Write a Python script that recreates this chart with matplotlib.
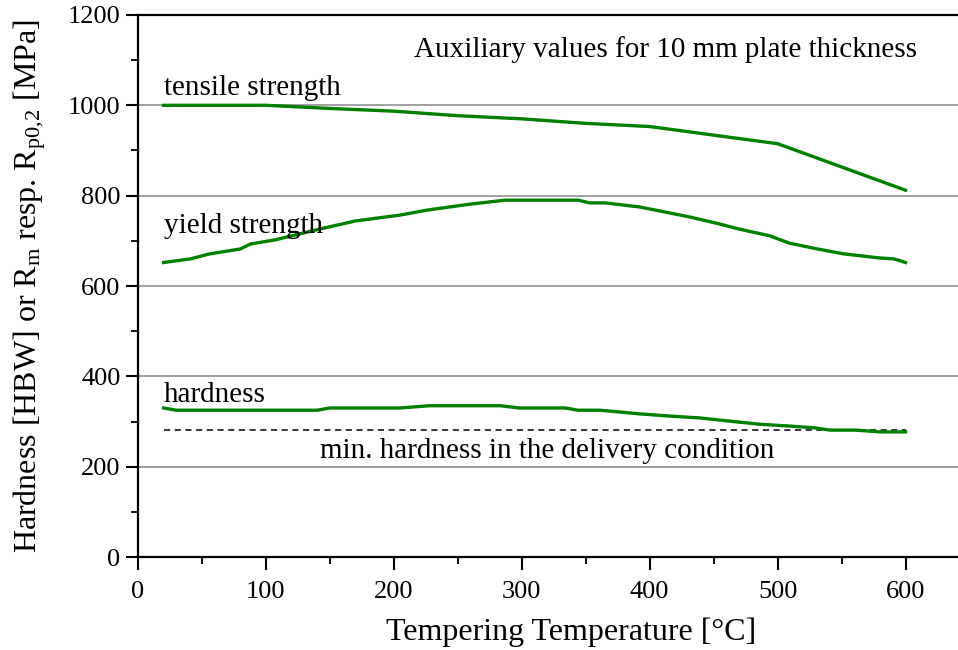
import numpy as np
import matplotlib
matplotlib.use("Agg")
import matplotlib.pyplot as plt
from matplotlib.ticker import MultipleLocator

plt.rcParams['font.family'] = ['Liberation Serif', 'DejaVu Serif']
plt.rcParams['mathtext.fontset'] = 'custom'
plt.rcParams['mathtext.rm'] = 'Liberation Serif'
plt.rcParams['mathtext.it'] = 'Liberation Serif:italic'

# 数据
tensile_x = [20, 100, 150, 200, 250, 300, 350, 400, 450, 500, 600]
tensile_y = [1000, 1000, 993, 987, 977, 970, 960, 953, 934, 915, 812]

yield_x = [20, 41, 56, 80, 88, 107, 142, 170, 205, 226, 259, 287, 344, 353, 365,
           392, 431, 455, 470, 494, 509, 531, 552, 580, 591, 600]
yield_y = [652, 660, 671, 682, 693, 702, 726, 744, 757, 768, 781, 790, 790, 784, 784,
           775, 753, 737, 726, 711, 695, 682, 671, 662, 660, 652]

hard_x = [20, 30, 140, 150, 205, 228, 283, 298, 334, 344, 361, 377, 392, 416, 439,
          462, 486, 509, 529, 541, 561, 580, 600]
hard_y = [330, 325, 325, 330, 330, 335, 335, 330, 330, 325, 325, 321, 317, 312, 308,
          301, 294, 290, 286, 281, 281, 277, 277]

min_hard_x = [20, 600]
min_hard_y = [281, 281]

green = '#008000'

fig = plt.figure(figsize=(9.58, 6.5), dpi=100)
ax = fig.add_axes([0.144, 0.143, 0.856, 0.834])

for yv in [200, 400, 600, 800, 1000]:
    ax.axhline(yv, color='#999999', lw=1.3, zorder=1)

ax.plot(tensile_x, tensile_y, color=green, lw=2.4, zorder=3)
ax.plot(yield_x, yield_y, color=green, lw=2.4, zorder=3)
ax.plot(hard_x, hard_y, color=green, lw=2.4, zorder=3)
ax.plot(min_hard_x, min_hard_y, color='black', lw=1.1, ls=(0, (4, 3)), zorder=2)

fs = 21
ax.text(20, 1023, 'tensile strength', fontsize=fs, va='baseline')
ax.text(20, 717, 'yield strength', fontsize=fs, va='baseline')
ax.text(20, 343, 'hardness', fontsize=fs, va='baseline')
ax.text(142, 219, 'min. hardness in the delivery condition', fontsize=fs, va='baseline')
ax.text(216, 1107, 'Auxiliary values for 10 mm plate thickness', fontsize=fs, va='baseline')

ax.set_xlim(0, 641)
ax.set_ylim(0, 1200)
ax.xaxis.set_major_locator(MultipleLocator(100))
ax.xaxis.set_minor_locator(MultipleLocator(50))
ax.yaxis.set_major_locator(MultipleLocator(200))
ax.yaxis.set_minor_locator(MultipleLocator(100))
ax.tick_params(which='major', length=9, width=1.5, labelsize=19, direction='out')
ax.tick_params(axis='x', which='major', pad=8)
ax.tick_params(which='minor', length=5, width=1.3, direction='out')

ax.spines['right'].set_visible(False)
for s in ['left', 'bottom', 'top']:
    ax.spines[s].set_linewidth(1.6)

ax.set_xlabel('Tempering Temperature [°C]', fontsize=23)
ax.xaxis.set_label_coords(0.528, -0.138, transform=ax.transAxes)
ax.xaxis.label.set_va('center')
ax.set_ylabel(r'Hardness [HBW] or R$_\mathrm{m}$ resp. R$_\mathrm{p0{,}2}$ [MPa]', fontsize=23, labelpad=14)

fig.savefig('out.png', dpi=100)
